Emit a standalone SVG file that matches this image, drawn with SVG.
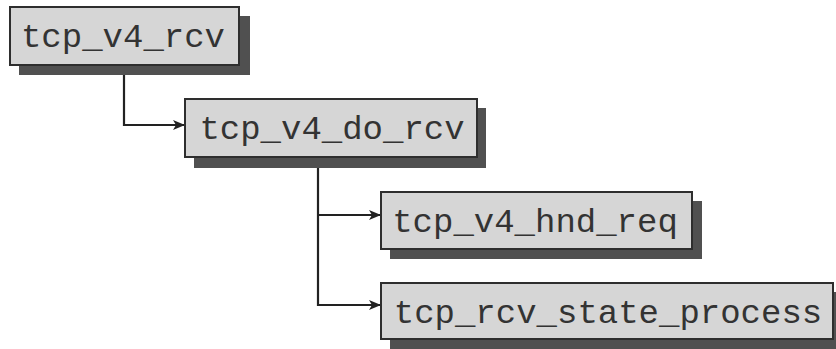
<svg xmlns="http://www.w3.org/2000/svg" width="836" height="349" viewBox="0 0 836 349">
<defs>
<style>
.shadow{fill:#505050;}
.box{fill:#d6d6d6;stroke:#2e2e2e;stroke-width:2;}
.lbl{font-family:"Liberation Mono","Courier New",monospace;font-size:34px;fill:#333;text-anchor:middle;}
.conn{fill:none;stroke:#222;stroke-width:2.2;}
</style>
<marker id="arr" viewBox="0 0 12 10" refX="11" refY="5" markerWidth="12" markerHeight="10" markerUnits="userSpaceOnUse" orient="auto">
<path d="M0,0 L12,5 L0,10 L3,5 Z" fill="#222"/>
</marker>
</defs>
<rect width="836" height="349" fill="#fff"/>
<g id="connectors">
<path class="conn" d="M124,65 V125 H184" marker-end="url(#arr)"/>
<path class="conn" d="M318,157 V305 H380" marker-end="url(#arr)"/>
<path class="conn" d="M318,215 H380" marker-end="url(#arr)"/>
</g>
<g id="n1">
<rect class="shadow" x="19" y="16" width="231" height="59"/>
<rect class="box" x="10" y="7" width="229" height="58"/>
<text class="lbl" x="123" y="47">tcp_v4_rcv</text>
</g>
<g id="n2">
<rect class="shadow" x="194" y="108" width="292" height="60"/>
<rect class="box" x="185" y="99" width="292" height="58"/>
<text class="lbl" x="332" y="139">tcp_v4_do_rcv</text>
</g>
<g id="n3">
<rect class="shadow" x="390" y="201" width="312" height="58"/>
<rect class="box" x="381" y="192" width="311" height="57"/>
<text class="lbl" x="535" y="232">tcp_v4_hnd_req</text>
</g>
<g id="n4">
<rect class="shadow" x="390" y="292" width="460" height="60"/>
<rect class="box" x="381" y="283" width="452" height="56"/>
<text class="lbl" x="608" y="323">tcp_rcv_state_process</text>
</g>
</svg>
